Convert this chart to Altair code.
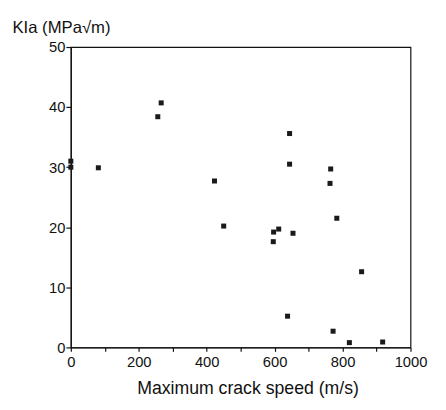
import altair as alt
import pandas as pd

# Data
crack_speed = [0, 0, 81, 256, 266, 423, 450, 596, 597, 612, 644, 644, 654, 638,
               763, 765, 783, 772, 820, 918, 856]
kia = [31.0, 30.0, 29.9, 38.4, 40.7, 27.7, 20.2, 17.6, 19.2, 19.7, 35.6, 30.5,
       19.0, 5.2, 27.3, 29.7, 21.5, 2.7, 0.8, 0.9, 12.6]

x_ticks = [0, 100, 200, 300, 400, 500, 600, 700, 800, 900, 1000]
y_ticks = [0, 10, 20, 30, 40, 50]

df = pd.DataFrame({"speed": crack_speed, "kia": kia})

FONT = "Liberation Sans"

chart = alt.Chart(df).mark_square(size=26, filled=True, color="#1a1a1a", opacity=1).encode(
    x=alt.X("speed:Q",
            scale=alt.Scale(domain=[0, 1000], nice=False, zero=True),
            axis=alt.Axis(values=x_ticks, format="d",
                          labelExpr="datum.value % 200 === 0 ? datum.label : ''",
                          title="Maximum crack speed (m/s)",
                          titleX=180, titleY=42, titleBaseline="middle",
                          titleFontSize=18, titleFontWeight="normal",
                          labelFontSize=15, labelPadding=3, tickSize=4,
                          labelFlush=False)),
    y=alt.Y("kia:Q",
            scale=alt.Scale(domain=[0, 50], nice=False),
            axis=alt.Axis(values=y_ticks, format="d",
                          title="KIa (MPa√m)",
                          titleAngle=0, titleAlign="left", titleBaseline="middle",
                          titleX=-60, titleY=-20,
                          titleFontSize=17, titleFontWeight="normal",
                          labelFontSize=15, labelPadding=1, tickSize=5,
                          labelFlush=False)),
).properties(
    width=346,
    height=306,
    autosize=alt.AutoSizeParams(type="none"),
    padding={"left": 64, "top": 36, "right": 28, "bottom": 60},
    background="white",
).configure_view(
    stroke="#111111", strokeWidth=1.2
).configure_axis(
    grid=False,
    domainColor="#111111", domainWidth=1.2,
    tickColor="#111111", tickWidth=1.2,
    labelColor="#111111", titleColor="#111111",
    labelFont=FONT, titleFont=FONT,
)

chart.save("out.html", embed_options={"renderer": "svg", "actions": False})
